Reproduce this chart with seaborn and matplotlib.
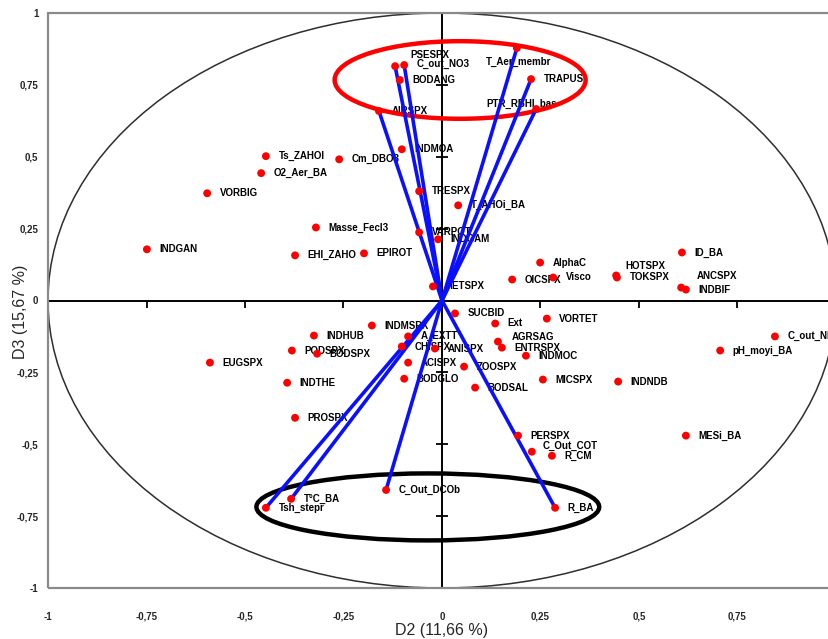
import matplotlib
matplotlib.use("Agg")
import matplotlib.pyplot as plt
from matplotlib.patches import Ellipse, Rectangle
import pandas as pd
import seaborn as sns

# variables drawn as vectors from the origin (D2, D3 loadings)
vec_names = ['AIRSPX', 'PSESPX', 'C_out_NO3', 'T_Aer_membr', 'TRAPUS', 'PTR_RBHI_bas',
             'Tsh_stepr', 'T°C_BA', 'C_Out_DCOb', 'R_BA']
vec_d2 = [-0.160, -0.119, -0.096, 0.190, 0.226, 0.239, -0.447, -0.383, -0.142, 0.287]
vec_d3 = [0.659, 0.815, 0.819, 0.878, 0.770, 0.666, -0.721, -0.690, -0.659, -0.721]

# other variables, points only
pt_names = ['BODANG', 'INDMOA', 'Ts_ZAHOI', 'Cm_DBO3', 'O2_Aer_BA', 'VORBIG', 'TRESPX',
            'T_AHOi_BA', 'Masse_Fecl3', 'VARPOT', 'INDGAM', 'INDGAN', 'EHI_ZAHO', 'EPIROT',
            'AlphaC', 'ID_BA', 'OICSPX', 'Visco', 'HOTSPX', 'TOKSPX', 'ANCSPX', 'INDBIF',
            'HETSPX', 'SUCBID', 'Ext', 'VORTET', 'C_out_NH4', 'pH_moyi_BA', 'AGRSAG',
            'ENTRSPX', 'INDMOC', 'ZOOSPX', 'BODSAL', 'MICSPX', 'INDNDB', 'PERSPX',
            'C_Out_COT', 'R_CM', 'MESi_BA', 'EUGSPX', 'INDHUB', 'PODSPX', 'BODSPX',
            'INDTHE', 'PROSPX', 'INDMSPX', 'A_EXTT', 'CHISPX', 'ANISPX', 'ACISPX', 'BODGLO']
pt_d2 = [-0.107, -0.102, -0.447, -0.261, -0.459, -0.596, -0.058,
         0.041, -0.320, -0.058, -0.010, -0.749, -0.373, -0.198,
         0.249, 0.609, 0.178, 0.282, 0.442, 0.444, 0.607, 0.619,
         -0.023, 0.033, 0.135, 0.266, 0.845, 0.706, 0.142,
         0.152, 0.213, 0.056, 0.084, 0.256, 0.447, 0.193,
         0.228, 0.279, 0.619, -0.589, -0.325, -0.381, -0.317,
         -0.393, -0.373, -0.178, -0.086, -0.102, -0.018, -0.086, -0.096]
pt_d3 = [0.767, 0.526, 0.502, 0.491, 0.443, 0.373, 0.380,
         0.331, 0.254, 0.237, 0.213, 0.178, 0.157, 0.164,
         0.132, 0.167, 0.073, 0.080, 0.087, 0.080, 0.045, 0.038,
         0.049, -0.045, -0.080, -0.063, -0.125, -0.174, -0.143,
         -0.164, -0.192, -0.230, -0.303, -0.275, -0.282, -0.470,
         -0.526, -0.540, -0.470, -0.216, -0.122, -0.174, -0.185,
         -0.286, -0.408, -0.087, -0.125, -0.160, -0.167, -0.216, -0.272]

tick_vals = [-1, -0.75, -0.5, -0.25, 0, 0.25, 0.5, 0.75, 1]
tick_text = ['-1', '-0,75', '-0,5', '-0,25', '0', '0,25', '0,5', '0,75', '1']

# label offsets (points) for labels not placed straight to the right
label_offsets = {'PSESPX': (11, 8), 'C_out_NO3': (9, 1), 'T_Aer_membr': (-22, -10),
                 'PTR_RBHI_bas': (-36, 4), 'HOTSPX': (6.5, 7), 'ANCSPX': (11, 8),
                 'AGRSAG': (10, 3.5), 'C_Out_COT': (8, 4)}

df = pd.DataFrame({'name': vec_names + pt_names,
                   'D2': vec_d2 + pt_d2,
                   'D3': vec_d3 + pt_d3})

sns.set_style('white')
fam = ['Liberation Sans Narrow', 'Liberation Sans', 'DejaVu Sans']
plt.rcParams['font.family'] = fam

fig = plt.figure(figsize=(8.29, 6.39), dpi=100)
ax = fig.add_axes([48 / 829, 51 / 639, 788 / 829, 575 / 639])
ax.set_xlim(-1, 1)
ax.set_ylim(-1, 1)

# correlation circle and highlight ellipses
ax.add_patch(Ellipse((0, 0), 2, 2, fill=False, ec='#2e2e2e', lw=1.1, zorder=1))
ax.add_patch(Ellipse((0.046, 0.767), 0.637, 0.27, fill=False, ec='#ff0000', lw=3.2, zorder=2.5))
ax.add_patch(Ellipse((-0.036, -0.718), 0.87, 0.233, fill=False, ec='black', lw=3.2, zorder=2.5))

# vectors
for x, y in zip(vec_d2, vec_d3):
    ax.plot([0, x], [0, y], color='#0a10ff', lw=2.6, solid_capstyle='round', zorder=3)

sns.scatterplot(data=df, x='D2', y='D3', color='#ff0000', s=32, edgecolor='none',
                ax=ax, zorder=4, legend=False)

for n, x, y in zip(df['name'], df['D2'], df['D3']):
    ax.annotate(n, (x, y), xytext=label_offsets.get(n, (9, 0)), textcoords='offset points',
                ha='left', va='center', fontsize=7, fontweight='bold', color='black',
                zorder=2, annotation_clip=False)

# crossing axes with tick marks
for s in ['top', 'right']:
    ax.spines[s].set_visible(False)
ax.spines['left'].set_position(('data', 0))
ax.spines['bottom'].set_position(('data', 0))
for s in ['left', 'bottom']:
    ax.spines[s].set_color('black')
    ax.spines[s].set_linewidth(1.4)
    ax.spines[s].set_zorder(1.5)
ax.set_xticks(tick_vals)
ax.set_yticks(tick_vals)
ax.tick_params(axis='x', direction='out', length=5, width=1.3, color='black',
               labelbottom=False, bottom=True)
ax.tick_params(axis='y', direction='inout', length=8, width=1.3, color='black',
               labelleft=False, left=True)
ax.set_xlabel('')
ax.set_ylabel('')

# outer frame
ax.add_patch(Rectangle((0, 0), 1, 1, transform=ax.transAxes, fill=False,
                       ec='#8a8a8a', lw=1.6, clip_on=False, zorder=5))

# tick labels at the frame edges (x = 1 falls outside the picture)
secx = ax.secondary_xaxis('bottom')
secx.set_xticks(tick_vals[:-1], labels=tick_text[:-1])
secx.tick_params(length=0, pad=17, labelsize=7)
for lab in secx.get_xticklabels():
    lab.set_fontweight('bold')
secx.spines['bottom'].set_visible(False)
secx.set_xlabel('D2 (11,66 %)', fontsize=11.5, labelpad=1)

secy = ax.secondary_yaxis('left')
secy.set_yticks(tick_vals, labels=tick_text)
secy.tick_params(length=0, pad=7, labelsize=7)
for lab in secy.get_yticklabels():
    lab.set_fontweight('bold')
secy.spines['left'].set_visible(False)
fig.text(21 / 829, 1 - 312 / 639, 'D3 (15,67 %)', rotation=90, fontsize=11.5,
         ha='center', va='center')

fig.savefig('out.png', dpi=100)
